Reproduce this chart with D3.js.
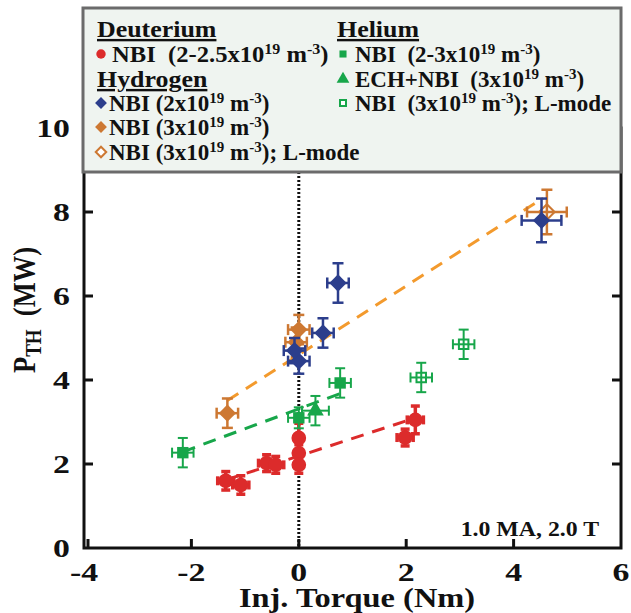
<!DOCTYPE html>
<html><head><meta charset="utf-8">
<script src="https://cdn.jsdelivr.net/npm/d3@7"></script>
<style>body{margin:0;background:#fff}svg{display:block}text{white-space:pre}</style>
</head><body>
<svg id="c" width="631" height="613"></svg>
<script>
// ---- data ----
const xTicks = [-4, -2, 0, 2, 4, 6];
const yTicks = [0, 2, 4, 6, 8, 10];

const deutX    = [-1.36, -1.08, -0.60, -0.43, 0.0, 0.0, 0.0, 1.98, 2.17];
const deutY    = [1.60, 1.50, 2.02, 1.98, 2.62, 2.26, 1.98, 2.63, 3.05];
const deutXErr = [0.15, 0.15, 0.15, 0.15, 0.05, 0.05, 0.05, 0.15, 0.15];
const deutYErr = [0.22, 0.22, 0.2, 0.2, 0.35, 0.2, 0.2, 0.2, 0.33];

const h2X    = [0.0, -0.08, 0.45, 0.73, 4.52];
const h2Y    = [4.45, 4.70, 5.12, 6.31, 7.80];
const h2XErr = [0.2, 0.2, 0.2, 0.2, 0.37];
const h2YErr = [0.3, 0.3, 0.35, 0.47, 0.52];

const h3X    = [-1.33, -0.05, 0.0];
const h3Y    = [3.21, 4.90, 5.20];
const h3XErr = [0.2, 0.2, 0.2];
const h3YErr = [0.35, 0.35, 0.35];

const h3LX    = [4.62];
const h3LY    = [8.00];
const h3LXErr = [0.37];
const h3LYErr = [0.53];

const heX    = [-2.16, 0.0, 0.77];
const heY    = [2.27, 3.10, 3.93];
const heXErr = [0.2, 0.2, 0.2];
const heYErr = [0.35, 0.25, 0.35];

const heEX    = [0.31];
const heEY    = [3.27];
const heEXErr = [0.25];
const heEYErr = [0.35];

const heLX    = [2.28, 3.07];
const heLY    = [4.06, 4.85];
const heLXErr = [0.2, 0.2];
const heLYErr = [0.35, 0.35];

const deutFitX = [-1.36, 2.20], deutFitY = [1.62, 3.11];
const heFitX   = [-2.16, 0.90], heFitY   = [2.29, 3.74];
const hFitX    = [-1.33, 4.55], hFitY    = [3.51, 8.33];

// ---- drawing ----
const RED = "#dc2b2b", GREEN = "#17a64a", BLUE = "#2c3e8c", ORANGE = "#cd7832", ORANGE_L = "#f39a2d";
const FONT = "'Liberation Serif','Times New Roman',serif";
const svg = d3.select("#c");
const x = d3.scaleLinear().domain([-4, 6]).range([84, 621]);
const y = d3.scaleLinear().domain([0, 10]).range([548, 128]);

const diamond = {draw(ctx, size) { const r = Math.sqrt(size / 2); ctx.moveTo(0, -r); ctx.lineTo(r, 0); ctx.lineTo(0, r); ctx.lineTo(-r, 0); ctx.closePath(); }};

// dotted zero line
svg.append("line").attr("x1", x(0)).attr("x2", x(0)).attr("y1", y(10)).attr("y2", y(0))
  .attr("stroke", "#111").attr("stroke-width", 3).attr("stroke-dasharray", "2,2");

// fit lines
function fit(xs, ys, col) {
  svg.append("path").datum(xs.map((v, i) => [v, ys[i]]))
    .attr("d", d3.line().x(d => x(d[0])).y(d => y(d[1])))
    .attr("fill", "none").attr("stroke", col).attr("stroke-width", 3)
    .attr("stroke-dasharray", "13,9");
}
fit(deutFitX, deutFitY, RED);
fit(heFitX, heFitY, GREEN);
fit(hFitX, hFitY, ORANGE_L);

// error bars + markers
function series(xs, ys, xe, ye, col, sym, size, open, ew, cap) {
  const g = svg.append("g");
  const pts = xs.map((v, i) => ({x: v, y: ys[i], xe: xe[i], ye: ye[i]}));
  const drawErr = () => {
    pts.forEach(p => {
      const e = g.append("g").attr("stroke", col).attr("stroke-width", ew).attr("fill", "none");
      e.append("line").attr("x1", x(p.x - p.xe)).attr("x2", x(p.x + p.xe)).attr("y1", y(p.y)).attr("y2", y(p.y));
      e.append("line").attr("x1", x(p.x)).attr("x2", x(p.x)).attr("y1", y(p.y - p.ye)).attr("y2", y(p.y + p.ye));
      e.append("line").attr("x1", x(p.x - p.xe)).attr("x2", x(p.x - p.xe)).attr("y1", y(p.y) - cap).attr("y2", y(p.y) + cap);
      e.append("line").attr("x1", x(p.x + p.xe)).attr("x2", x(p.x + p.xe)).attr("y1", y(p.y) - cap).attr("y2", y(p.y) + cap);
      e.append("line").attr("x1", x(p.x) - cap).attr("x2", x(p.x) + cap).attr("y1", y(p.y - p.ye)).attr("y2", y(p.y - p.ye));
      e.append("line").attr("x1", x(p.x) - cap).attr("x2", x(p.x) + cap).attr("y1", y(p.y + p.ye)).attr("y2", y(p.y + p.ye));
    });
  };
  if (!open) drawErr();
  g.selectAll("path.m").data(pts).join("path").attr("class", "m")
    .attr("transform", p => `translate(${x(p.x)},${y(p.y)})`)
    .attr("d", d3.symbol().type(sym).size(size))
    .attr("fill", open ? "#fff" : col).attr("stroke", col).attr("stroke-width", open ? 2 : 0);
  if (open) drawErr();
}
series(deutX, deutY, deutXErr, deutYErr, RED, d3.symbolCircle, 170, false, 3.5, 4.5);
series(heX, heY, heXErr, heYErr, GREEN, d3.symbolSquare, 130, false, 2, 5);
series(heEX, heEY, heEXErr, heEYErr, GREEN, d3.symbolTriangle, 120, false, 2, 5);
series(heLX, heLY, heLXErr, heLYErr, GREEN, d3.symbolSquare, 90, true, 2, 5);
series(h3X, h3Y, h3XErr, h3YErr, ORANGE, diamond, 150, false, 2.5, 5.5);
series(h3LX, h3LY, h3LXErr, h3LYErr, ORANGE, diamond, 120, true, 2.5, 5.5);
series(h2X, h2Y, h2XErr, h2YErr, BLUE, diamond, 150, false, 2.5, 5.5);

// axes frame
const ax = svg.append("g").attr("stroke", "#111").attr("stroke-width", 3).attr("fill", "none");
ax.append("rect").attr("x", x(-4)).attr("y", y(10)).attr("width", x(6) - x(-4)).attr("height", y(0) - y(10));
xTicks.slice(1, -1).forEach(t => {
  ax.append("line").attr("x1", x(t)).attr("x2", x(t)).attr("y1", y(0)).attr("y2", y(0) - 9);
  ax.append("line").attr("x1", x(t)).attr("x2", x(t)).attr("y1", y(10)).attr("y2", y(10) + 9);
});
ax.append("line").attr("x1", x(-4) + 4).attr("x2", x(-4) + 4).attr("y1", y(0)).attr("y2", y(0) - 9);
yTicks.slice(1, -1).forEach(t => {
  ax.append("line").attr("x1", x(-4)).attr("x2", x(-4) + 9).attr("y1", y(t)).attr("y2", y(t));
  ax.append("line").attr("x1", x(6)).attr("x2", x(6) - 9).attr("y1", y(t)).attr("y2", y(t));
});

// stretched text helper
function stext(parent, tx, ty, sx, anchor, size, str) {
  return parent.append("text").attr("transform", `translate(${tx},${ty}) scale(${sx},1)`)
    .attr("text-anchor", anchor).attr("font-family", FONT).attr("font-weight", "bold")
    .attr("font-size", size).attr("fill", "#111").text(str);
}
const tl = svg.append("g");
xTicks.forEach(t => stext(tl, x(t), 581, 1.3, "middle", 26, String(t)));
yTicks.forEach(t => stext(tl, 70, y(t) + 9, 1.3, "end", 26, String(t)));

// axis titles
stext(svg, 357, 607, 1.2, "middle", 27, "Inj. Torque (Nm)");
const yt = svg.append("text").attr("transform", "translate(35,310) rotate(-90) scale(1,1.2)").attr("text-anchor", "middle")
  .attr("font-family", FONT).attr("font-weight", "bold").attr("font-size", 26.5).attr("fill", "#111");
yt.append("tspan").text("P");
yt.append("tspan").attr("font-size", 19).attr("dy", 5).text("TH");
yt.append("tspan").attr("dy", -5).text("  (MW)");

stext(svg, 599, 536, 1.19, "end", 20, "1.0 MA, 2.0 T");

// legend
svg.append("rect").attr("x", 83).attr("y", 8).attr("width", 538).attr("height", 164)
  .attr("fill", "#eff4f0").attr("stroke", "#6b6b6b").attr("stroke-width", 3);
const LG = svg.append("g").attr("font-family", FONT).attr("font-weight", "bold").attr("font-size", 23).attr("fill", "#111");
function header(tx, ty, s) {
  LG.append("text").attr("transform", `translate(${tx},${ty}) scale(1.08,1)`).attr("font-size", 24)
    .attr("text-decoration", "underline").text(s);
}
function entry(mx, tx, ty, sx, col, sym, size, open, pre, dens, post) {
  LG.append("path").attr("transform", `translate(${mx},${ty - 8})`)
    .attr("d", d3.symbol().type(sym).size(size))
    .attr("fill", open ? "#fff" : col).attr("stroke", col).attr("stroke-width", open ? 2 : 0);
  const t = LG.append("text").attr("transform", `translate(${tx},${ty}) scale(${sx},1)`);
  t.append("tspan").text(pre + dens + "x10");
  t.append("tspan").attr("font-size", 15).attr("dy", -8).text("19");
  t.append("tspan").attr("dy", 8).text(" m");
  t.append("tspan").attr("font-size", 15).attr("dy", -8).text("-3");
  t.append("tspan").attr("dy", 8).text(")" + post);
}
header(97, 37, "Deuterium");
entry(101, 112, 62, 1.07, RED, d3.symbolCircle, 70, false, "NBI  (", "2-2.5", "");
header(97, 87, "Hydrogen");
entry(101, 109, 111, 1.0, BLUE, diamond, 70, false, "NBI (", "2", "");
entry(101, 109, 135, 1.0, ORANGE, diamond, 70, false, "NBI (", "3", "");
entry(101, 109, 160, 1.0, ORANGE, diamond, 55, true, "NBI (", "3", "; L-mode");
header(337, 37, "Helium");
entry(343, 355, 62, 1.0, GREEN, d3.symbolSquare, 50, false, "NBI  (", "2-3", "");
entry(343, 355, 87, 1.0, GREEN, d3.symbolTriangle, 70, false, "ECH+NBI  (", "3", "");
entry(343, 355, 111, 1.0, GREEN, d3.symbolSquare, 36, true, "NBI  (", "3", "; L-mode");
</script>
</body></html>
